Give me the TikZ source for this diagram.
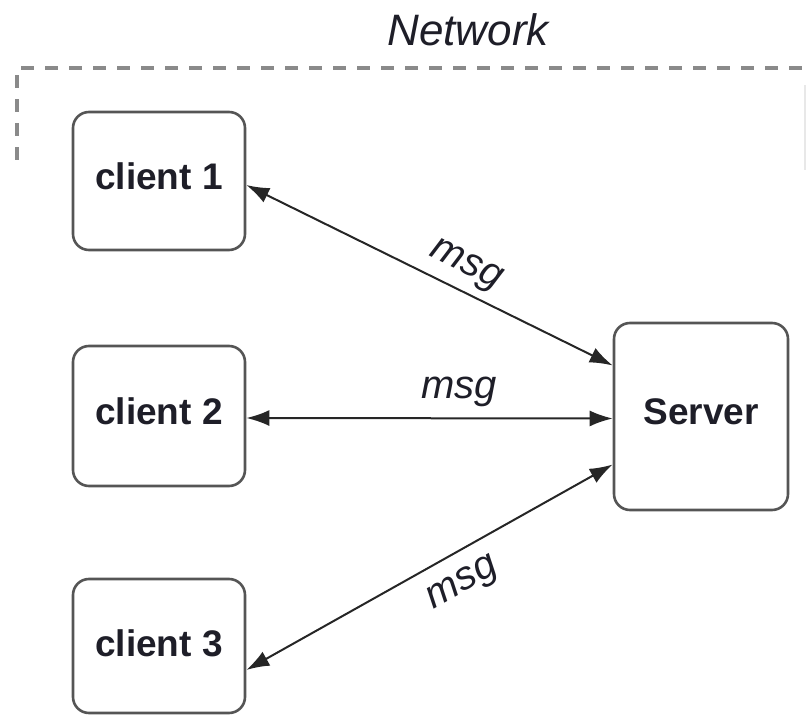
\documentclass[tikz,border=0pt]{standalone}
\usepackage{fontspec}
\setmainfont{Liberation Sans}
\usetikzlibrary{arrows.meta}
\definecolor{boxline}{HTML}{555555}
\definecolor{dashgray}{HTML}{8A8A8A}
\definecolor{txt}{HTML}{1E1E28}
\begin{document}
\begin{tikzpicture}[x=1pt,y=1pt,
  boxnode/.style={draw=boxline, line width=2.6pt, rounded corners=16pt, fill=white,
    minimum width=172pt, inner sep=0pt, text=txt, font=\fontsize{37}{44}\selectfont\bfseries},
  conn/.style={line width=2pt, draw=black!85, {Latex[length=23pt,width=16pt]}-{Latex[length=23pt,width=16pt]}},
  msglabel/.style={font=\fontsize{40}{48}\selectfont\itshape, text=txt, inner sep=8pt},
  netframe/.style={draw=dashgray, line width=4pt, dash pattern=on 13pt off 11pt}
]
\useasboundingbox (0,0) rectangle (808,715);

% network frame
\coordinate (fl) at (17,555);
\coordinate (ftl) at (17,647);
\coordinate (ftr) at (808,647);
\draw[netframe] (fl) -- (ftl) -- (ftr);
\coordinate (rb) at (805,545);
\coordinate (rt) at (805,630);
\draw[draw=gray!18, line width=2pt] (rb) -- (rt);
\node[font=\fontsize{44}{52}\selectfont\itshape, text=txt] (net) at (468,685) {Network};

% nodes
\node[boxnode, minimum height=138pt] (c1) at (159,534) {\raisebox{10pt}{client 1}};
\node[boxnode, minimum height=140pt] (c2) at (159,299) {\raisebox{10pt}{client 2}};
\node[boxnode, minimum height=134pt] (c3) at (159,69) {\raisebox{5pt}{client 3}};
\node[boxnode, minimum width=174pt, minimum height=187pt] (srv) at (701,298.5) {\raisebox{9pt}{Server}};

% connectors
\draw[conn] ([yshift=-4pt]c1.east) -- node[msglabel, sloped, above, pos=0.57] {msg} ([yshift=51pt]srv.west);
\draw[conn] ([yshift=-2pt]c2.east) -- node[msglabel, above, pos=0.58, inner sep=10pt] {msg} ([yshift=-2pt]srv.west);
\draw[conn] ([yshift=-24pt]c3.east) -- node[msglabel, sloped, below, pos=0.55, inner sep=16pt] {msg} ([yshift=-48pt]srv.west);
\end{tikzpicture}
\end{document}
